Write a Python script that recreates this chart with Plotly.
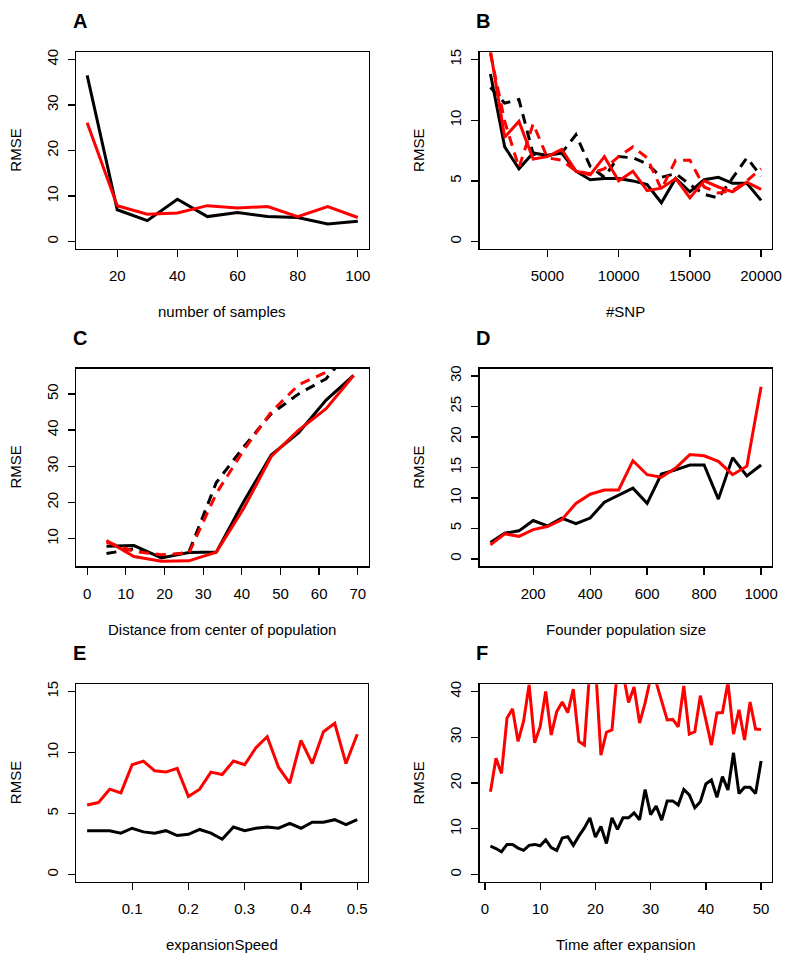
import plotly.graph_objects as go

# ---------------- data ----------------
# Panel A
a_x = [10, 20, 30, 40, 50, 60, 70, 80, 90, 100]
a_black = [36.5, 7.0, 4.6, 9.3, 5.5, 6.4, 5.5, 5.3, 3.9, 4.5]
a_red = [26.1, 7.9, 6.0, 6.3, 7.9, 7.4, 7.7, 5.5, 7.7, 5.3]

# Panel B
b_x = [1000, 2000, 3000, 4000, 5000, 6000, 7000, 8000, 9000, 10000,
       11000, 12000, 13000, 14000, 15000, 16000, 17000, 18000, 19000, 20000]
b_black = [13.8, 7.8, 6.0, 7.3, 7.1, 7.3, 5.8, 5.1, 5.2, 5.2,
           5.0, 4.7, 3.2, 5.2, 4.1, 5.1, 5.3, 4.8, 4.8, 3.4]
b_black_dash = [12.7, 11.4, 11.7, 7.2, 7.1, 7.3, 8.8, 6.2, 5.3, 7.0,
                6.9, 6.4, 5.3, 5.6, 4.7, 3.9, 3.6, 5.2, 6.9, 5.4]
b_red = [15.7, 8.6, 9.9, 6.8, 7.0, 7.6, 5.8, 5.5, 7.0, 5.0,
         5.8, 4.2, 4.4, 5.2, 3.6, 5.0, 4.5, 4.1, 4.9, 4.3]
b_red_dash = [15.5, 9.9, 6.1, 9.7, 6.9, 6.7, 5.8, 5.6, 6.0, 7.0,
              7.8, 6.9, 4.3, 6.7, 6.7, 4.5, 4.0, 4.2, 5.0, 6.0]

# Panel C
c_x = [5.0, 12.1, 19.2, 26.3, 33.4, 40.5, 47.6, 54.7, 61.8, 68.9]
c_black = [7.9, 8.1, 4.7, 6.2, 6.3, 20.3, 33.1, 39.3, 48.3, 55.1]
c_red = [9.5, 5.1, 3.75, 3.9, 6.3, 18.4, 32.7, 40.0, 45.9, 55.1]
c_black_dash = [5.9, 7.2, 5.1, 6.3, 25.5, 35.4, 44.5, 50.0, 54.2, 63.0]
c_red_dash = [9.1, 6.5, 5.6, 6.0, 22.5, 34.5, 45.0, 52.5, 56.0, 62.0]

# Panel D
d_x = [50, 100, 150, 200, 250, 300, 350, 400, 450, 500,
       550, 600, 650, 700, 750, 800, 850, 900, 950, 1000]
d_black = [2.7, 4.2, 4.6, 6.3, 5.4, 6.7, 5.8, 6.7, 9.3, 10.5,
           11.6, 9.1, 13.9, 14.6, 15.4, 15.4, 9.8, 16.6, 13.6, 15.4]
d_red = [2.3, 4.1, 3.7, 4.8, 5.3, 6.4, 9.1, 10.6, 11.3, 11.3,
         16.1, 13.8, 13.4, 14.9, 17.1, 16.9, 16.0, 13.8, 15.2, 28.2]

# Panel E
e_x = [0.02, 0.04, 0.06, 0.08, 0.10, 0.12, 0.14, 0.16, 0.18, 0.20,
       0.22, 0.24, 0.26, 0.28, 0.30, 0.32, 0.34, 0.36, 0.38, 0.40,
       0.42, 0.44, 0.46, 0.48, 0.50]
e_black = [3.6, 3.6, 3.6, 3.4, 3.8, 3.5, 3.4, 3.6, 3.2, 3.3,
           3.7, 3.4, 2.9, 3.9, 3.6, 3.8, 3.9, 3.8, 4.2, 3.8,
           4.3, 4.3, 4.5, 4.1, 4.5]
e_red = [5.7, 5.9, 7.0, 6.7, 9.0, 9.3, 8.5, 8.4, 8.7, 6.4,
         7.0, 8.4, 8.2, 9.3, 9.0, 10.4, 11.3, 8.8, 7.5, 11.0,
         9.1, 11.7, 12.4, 9.1, 11.5]

# Panel F
f_x = list(range(1, 51))
f_black = [6.2, 5.7, 5.0, 6.6, 6.6, 5.8, 5.3, 6.4, 6.6, 6.3,
           7.6, 5.9, 5.3, 8.0, 8.3, 6.4, 8.4, 10.2, 12.4, 8.2,
           10.5, 6.8, 12.4, 9.9, 12.4, 12.4, 13.5, 12.0, 18.6, 13.1,
           15.0, 11.9, 16.1, 16.1, 15.2, 18.6, 17.4, 14.6, 15.9, 19.8,
           20.7, 16.9, 21.4, 18.5, 26.6, 17.7, 19.1, 19.1, 17.7, 24.8]
f_red = [18.1, 25.4, 22.1, 34.2, 36.2, 29.1, 33.5, 41.5, 28.8, 32.3,
         40.0, 30.5, 35.6, 37.7, 35.4, 40.5, 29.1, 28.3, 45.0, 46.0,
         26.1, 31.1, 31.6, 45.0, 44.0, 37.6, 41.0, 33.1, 37.5, 43.0,
         42.0, 37.8, 33.8, 33.9, 32.3, 41.2, 30.7, 31.2, 39.1, 33.8,
         28.3, 35.3, 35.4, 42.0, 30.7, 36.0, 29.4, 37.7, 31.8, 31.7]

panel_letters = ["A", "B", "C", "D", "E", "F"]
x_titles = ["number of samples", "#SNP", "Distance from center of population",
            "Founder population size", "expansionSpeed", "Time after expansion"]
y_title = "RMSE"

# ---------------- layout geometry (pixels) ----------------
W, H = 800, 962
boxes = [  # x0, x1, y0(top), y1(bottom)
    (77.3, 373.3, 49.3, 246.7),
    (485.7, 781.7, 49.3, 246.7),
    (77.3, 373.3, 366.7, 565.0),
    (485.7, 781.7, 366.7, 565.0),
    (77.3, 372.7, 683.3, 881.7),
    (485.7, 781.7, 683.3, 881.7),
]
x_ranges = [[6.4, 103.6], [240, 20760], [-2.8, 72.8], [12, 1038], [0.0008, 0.5192], [-0.96, 51.96]]
y_ranges = [[-1.6, 41.6], [-0.6, 15.6], [2.4, 57.0], [-1.2, 31.2], [-0.6, 15.6], [-1.6, 41.6]]
x_ticks = [[20, 40, 60, 80, 100], [5000, 10000, 15000, 20000], [0, 10, 20, 30, 40, 50, 60, 70],
           [200, 400, 600, 800, 1000], [0.1, 0.2, 0.3, 0.4, 0.5], [0, 10, 20, 30, 40, 50]]
y_ticks = [[0, 10, 20, 30, 40], [0, 5, 10, 15], [10, 20, 30, 40, 50],
           [0, 5, 10, 15, 20, 25, 30], [0, 5, 10, 15], [0, 10, 20, 30, 40]]

FONT = "Liberation Sans, Arial, Helvetica, sans-serif"
BLACK = "#000000"
RED = "#FF0000"
LW = 3
DASH = "10px,7px"

series = [
    [(a_x, a_black, BLACK, "solid"), (a_x, a_red, RED, "solid")],
    [(b_x, b_black, BLACK, "solid"), (b_x, b_black_dash, BLACK, DASH),
     (b_x, b_red, RED, "solid"), (b_x, b_red_dash, RED, DASH)],
    [(c_x, c_black, BLACK, "solid"), (c_x, c_black_dash, BLACK, DASH),
     (c_x, c_red, RED, "solid"), (c_x, c_red_dash, RED, DASH)],
    [(d_x, d_black, BLACK, "solid"), (d_x, d_red, RED, "solid")],
    [(e_x, e_black, BLACK, "solid"), (e_x, e_red, RED, "solid")],
    [(f_x, f_black, BLACK, "solid"), (f_x, f_red, RED, "solid")],
]

fig = go.Figure()
layout = dict(
    width=W, height=H,
    margin=dict(l=0, r=0, t=0, b=0),
    paper_bgcolor="white", plot_bgcolor="white",
    showlegend=False,
    font=dict(family=FONT, size=15, color="black"),
)
annotations = []

for i in range(6):
    n = "" if i == 0 else str(i + 1)
    x0, x1, y0, y1 = boxes[i]
    xd = [x0 / W, x1 / W]
    yd = [1 - y1 / H, 1 - y0 / H]
    axis_common = dict(
        showgrid=False, zeroline=False, showline=True, mirror=True,
        linecolor="black", linewidth=1.3, ticks="outside", ticklen=7,
        tickwidth=1.3, tickcolor="black",
        tickfont=dict(family=FONT, size=15, color="black"),
    )
    layout["xaxis" + n] = dict(axis_common, domain=xd, range=x_ranges[i],
                               tickmode="array", tickvals=x_ticks[i],
                               ticktext=[("%g" % v) for v in x_ticks[i]],
                               ticklabelstandoff=6,
                               anchor="y" + n)
    layout["yaxis" + n] = dict(axis_common, domain=yd, range=y_ranges[i],
                               tickmode="array", tickvals=y_ticks[i],
                               ticktext=[("%g" % v) for v in y_ticks[i]],
                               tickangle=-90, ticklabelstandoff=4,
                               anchor="x" + n)
    for xs, ys, col, dash in series[i]:
        fig.add_trace(go.Scatter(x=xs, y=ys, mode="lines",
                                 line=dict(color=col, width=LW, dash=dash),
                                 xaxis="x" + n, yaxis="y" + n,
                                 hoverinfo="skip"))
    # x-axis title
    annotations.append(dict(text=x_titles[i], xref="paper", yref="paper",
                            x=(x0 + x1) / 2 / W, y=1 - (y1 + 63) / H,
                            xanchor="center", yanchor="middle", showarrow=False,
                            font=dict(family=FONT, size=15, color="black")))
    # y-axis title
    annotations.append(dict(text=y_title, xref="paper", yref="paper",
                            x=(x0 - 62) / W, y=1 - (y0 + y1) / 2 / H,
                            xanchor="center", yanchor="middle", showarrow=False,
                            textangle=-90,
                            font=dict(family=FONT, size=15, color="black")))
    # panel letter
    annotations.append(dict(text="<b>%s</b>" % panel_letters[i], xref="paper", yref="paper",
                            x=(x0 - 5.5) / W, y=1 - (y0 - 31) / H,
                            xanchor="left", yanchor="middle", showarrow=False,
                            font=dict(family=FONT, size=20, color="black")))

layout["annotations"] = annotations
fig.update_layout(**layout)
fig.write_html("out.html",
               config={"displayModeBar": False, "staticPlot": True},
               post_script="document.body.style.margin='0px';document.body.style.overflow='hidden';")
